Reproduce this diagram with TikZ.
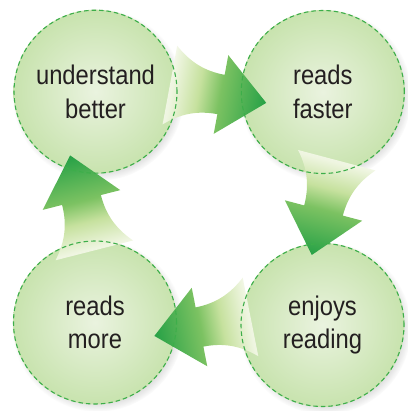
\documentclass[tikz,border=0pt]{standalone}
\usepackage{fontspec}
\setmainfont{Liberation Sans}[FakeStretch=0.88]
\usetikzlibrary{shadows,fadings,calc}
\definecolor{circin}{HTML}{EAF3DF}
\definecolor{circout}{HTML}{C8E3AE}
\definecolor{dashgreen}{HTML}{3DAE4A}
\definecolor{arrtail}{HTML}{F2F7E6}
\definecolor{arrmid}{HTML}{C6E19E}
\definecolor{arrbase}{HTML}{7CC262}
\definecolor{arrtip}{HTML}{26A146}
\definecolor{txtcol}{HTML}{231F20}
\pgfdeclarehorizontalshading{arrowshade}{100bp}{color(0bp)=(arrtail); color(25bp)=(arrtail); color(40bp)=(arrmid); color(51bp)=(arrbase); color(75bp)=(arrtip); color(100bp)=(arrtip)}
\pgfdeclarehorizontalshading{tailfadeshade}{100bp}{color(0bp)=(black); color(9bp)=(black); color(26bp)=(white); color(100bp)=(white)}
\pgfdeclarefading{tailfade}{\pgfuseshading{tailfadeshade}}
\tikzset{
  bubble/.style={circle, minimum size=164pt, inner sep=0pt, shade, inner color=circin, outer color=circout,
    circular drop shadow={shadow xshift=2.5pt, shadow yshift=-3pt, shadow scale=1.05, opacity=0.35},
    font=\fontsize{27pt}{33.5pt}\selectfont, text=txtcol, align=center},
  bubbleborder/.style={draw=dashgreen, line width=1.1pt, dash pattern=on 4.5pt off 3pt},
  arrowfill/.style={shade, shading=arrowshade, path fading=tailfade},
  arrowshape/.style={insert path={(46,0) -- (0,40) -- (0,20) .. controls (-20,20) and (-36,26) .. (-52,40) -- (-52,-40) .. controls (-36,-26) and (-20,-20) .. (0,-20) -- (0,-40) -- cycle}}
}
\begin{document}
\begin{tikzpicture}[x=1pt, y=-1pt]
\useasboundingbox (0,0) rectangle (407,411);
% circles
\node[bubble] (ub) at (95.5,91.7) {understand\\better};
\node[bubble] (rf) at (322.8,92) {reads\\faster};
\node[bubble] (rm) at (95,322.5) {reads\\more};
\node[bubble] (er) at (322.5,325) {enjoys\\reading};
% block arrows
\begin{scope}[transform canvas={shift={(221,94.5)}, rotate=-10.5}]
  \path[arrowfill] [arrowshape];
\end{scope}
\begin{scope}[transform canvas={shift={(323.5,210.5)}, rotate=-104.8}]
  \path[arrowfill] [arrowshape];
\end{scope}
\begin{scope}[transform canvas={shift={(199.5,327)}, rotate=-168.8}]
  \path[arrowfill] [arrowshape];
\end{scope}
\begin{scope}[transform canvas={shift={(81.5,200)}, rotate=104.3}]
  \path[arrowfill] [arrowshape];
\end{scope}
% dashed borders
\foreach \c in {ub,rf,rm,er} {
  \draw[bubbleborder] (\c.center) circle[radius=81.5pt];
}
\end{tikzpicture}
\end{document}
